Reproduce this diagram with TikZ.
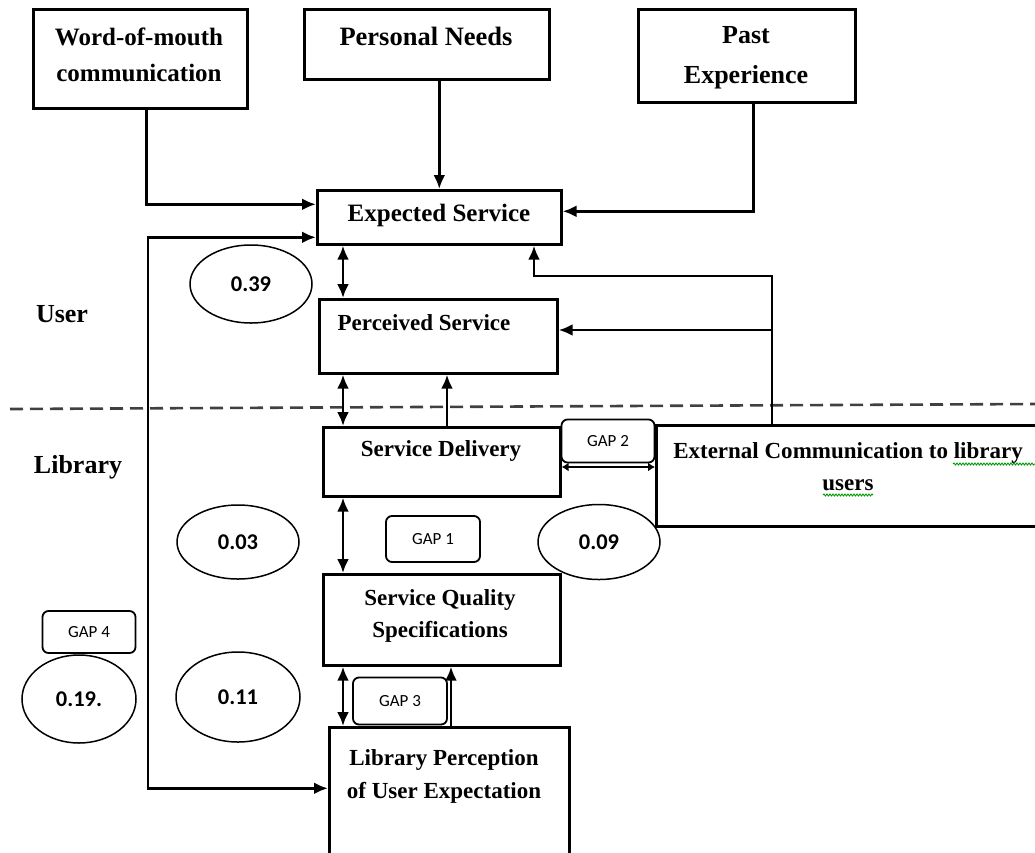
\documentclass[tikz,border=0pt]{standalone}
\usepackage{fontspec}
\setmainfont{Liberation Serif}
\newfontfamily\calib{Carlito}
\usetikzlibrary{arrows.meta,shapes.geometric,decorations.pathmorphing}

\begin{document}
\begin{tikzpicture}[x=1pt,y=-1pt,
  box/.style={draw, line width=2.6pt, rectangle, inner sep=0pt, anchor=north west},
  lbl/.style={inner sep=0pt, align=center, font=\bfseries\fontsize{23}{32}\selectfont},
  gapbox/.style={draw, fill=white, line width=1.8pt, rounded corners=6pt, inner sep=0pt,
    font=\calib\fontsize{17}{20}\selectfont},
  val/.style={draw, fill=white, ellipse, line width=1.5pt, inner sep=0pt,
    font=\calib\bfseries\fontsize{22.5}{26}\selectfont},
  tip/.style={},
  arr/.style={line width=2.8pt, -{Latex[length=14pt,width=12pt]}},
  dbl/.style={line width=2.8pt, {Latex[length=14pt,width=12pt]}-{Latex[length=14pt,width=12pt]}},
  dblsmall/.style={line width=2.2pt, {Latex[length=7pt,width=9pt]}-{Latex[length=7pt,width=9pt]}},
  divider/.style={line width=2.6pt, black!75, dash pattern=on 13pt off 7pt},
  squiggle/.style={green!60!black, line width=0.9pt, decorate,
    decoration={snake, amplitude=1pt, segment length=3pt}}
]
\useasboundingbox (0,0) rectangle (1035,852);
\clip (0,0) rectangle (1035,852);

% user / library divider
\draw[divider] (10,409) -- (1035,404);
\node[lbl, font=\bfseries\fontsize{26}{30}\selectfont] (userT) at (62,314) {User};
\node[lbl, font=\bfseries\fontsize{26}{30}\selectfont] (libT) at (78,467) {Library};

% boxes
\node[box, minimum width=214pt, minimum height=99pt] (wom) at (32,8) {};
\node[box, minimum width=245pt, minimum height=70pt] (pn) at (303,8) {};
\node[box, minimum width=217pt, minimum height=93pt] (pe) at (637,8) {};
\node[box, minimum width=244pt, minimum height=54pt] (es) at (316,189) {};
\node[box, minimum width=238pt, minimum height=74pt] (ps) at (318,298) {};
\node[box, minimum width=237pt, minimum height=69pt] (sd) at (322,426) {};
\node[box, minimum width=386pt, minimum height=101pt] (ext) at (655,424) {};
\node[box, minimum width=237pt, minimum height=91pt] (sqs) at (322,573) {};
\node[box, minimum width=240pt, minimum height=140pt] (lpe) at (328,726) {};

% box texts
\node[lbl, font=\bfseries\fontsize{25}{36}\selectfont] (womT) at (139,55) {Word-of-mouth\\communication};
\node[lbl, font=\bfseries\fontsize{26.5}{30}\selectfont] (pnT) at (426,36) {Personal Needs};
\node[lbl, font=\bfseries\fontsize{26}{40}\selectfont] (peT) at (746,58) {Past\\Experience};
\node[lbl, font=\bfseries\fontsize{25}{30}\selectfont] (esT) at (439,215) {Expected Service};
\node[lbl] (psT) at (424,323) {Perceived Service};
\node[lbl] (sdT) at (441,451) {Service Delivery};
\node[lbl] (extT) at (848,467) {External Communication to library\\users};
\node[lbl] (sqsT) at (440,616) {Service Quality\\Specifications};
\node[lbl, font=\bfseries\fontsize{23}{33}\selectfont] (lpeT) at (444,776) {Library Perception\\of User Expectation};

% spell-check marks under two words
\draw[squiggle] (953,464) -- (1035,464);
\draw[squiggle] (823,495) -- (873,495);

% helper coordinates for connector lanes
\coordinate (axL) at (343,0);
\coordinate (axR) at (447,0);
\coordinate (axR2) at (451,0);
\coordinate (axE) at (772,0);
\coordinate (fbE) at (534,276);
\coordinate (ayP) at (0,330);
\coordinate (ayG) at (0,467);
\coordinate (loopL) at (148,500);

% connectors
\draw[arr] ([xshift=6pt]wom.south) |- ([yshift=13pt]es.west);
\draw[arr] (es.north |- pn.south) -- (es.north);
\draw[arr] ([xshift=6.5pt]pe.south) |- ([yshift=6pt]es.east);
\draw[dbl] ([yshift=-20pt]es.west) -| (loopL) |- ([yshift=9pt]lpe.west);
\draw[dbl] (es.south -| axL) -- (ps.north -| axL);
\draw[dbl] (ps.south -| axL) -- (sd.north -| axL);
\draw[arr] (sd.north -| axR) -- (ps.south -| axR);
\draw[dbl] (sd.south -| axL) -- (sqs.north -| axL);
\draw[dbl] (sqs.south -| axL) -- (lpe.north -| axL);
\draw[arr] (lpe.north -| axR2) -- (sqs.south -| axR2);
\draw[dblsmall] (sd.east |- ayG) -- (ext.west |- ayG);
\draw[arr] (ext.north -| axE) |- (fbE) -- (es.south -| fbE);
\draw[arr] (axE |- ayP) -- (ps.east |- ayP);

% gap values
\node[val, minimum width=122pt, minimum height=78pt] (v39) at (251,284) {0.39};
\node[val, minimum width=122pt, minimum height=74pt] (v03) at (238,542) {0.03};
\node[val, minimum width=122pt, minimum height=75pt] (v09) at (599,542) {0.09};
\node[val, minimum width=124pt, minimum height=90pt] (v11) at (238,697) {0.11};
\node[val, minimum width=114pt, minimum height=88pt] (v19) at (79,699) {0.19.};

% gap tags
\node[gapbox, minimum width=94pt, minimum height=46pt] (g1) at (433,539) {GAP 1};
\node[gapbox, minimum width=93pt, minimum height=43pt] (g2) at (608,441) {GAP 2};
\node[gapbox, minimum width=94pt, minimum height=47pt] (g3) at (400,701) {GAP 3};
\node[gapbox, minimum width=93pt, minimum height=42pt] (g4) at (89,632) {GAP 4};
\end{tikzpicture}
\end{document}
